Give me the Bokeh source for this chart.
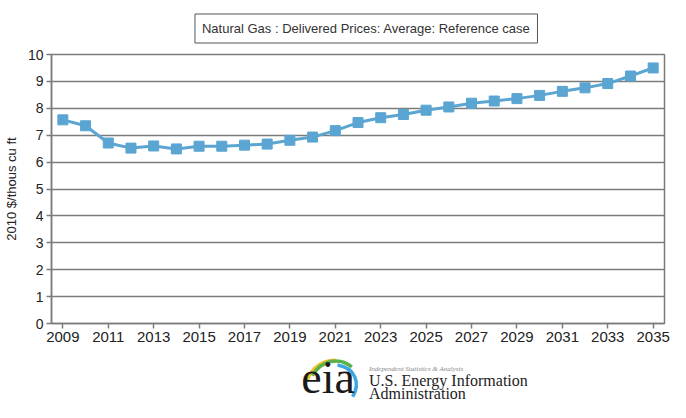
from bokeh.plotting import figure
from bokeh.models import Range1d, FixedTicker, Label, ColumnDataSource
from bokeh.layouts import column
from bokeh.embed import file_html
from bokeh.resources import INLINE

years = list(range(2009, 2036))
prices = [7.57, 7.35, 6.71, 6.52, 6.60, 6.49, 6.59, 6.59, 6.63, 6.67,
          6.81, 6.93, 7.17, 7.47, 7.65, 7.77, 7.93, 8.05, 8.19, 8.27,
          8.36, 8.48, 8.63, 8.76, 8.92, 9.20, 9.50]
x_ticks = list(range(2009, 2036, 2))
y_ticks = list(range(0, 11))
title_text = "Natural Gas : Delivered Prices: Average: Reference case"
y_label = "2010 $/thous cu ft"

FONT = "Liberation Sans"
SERIF = "Liberation Serif"
LINE = "#5AA5D2"
GRID = "#7c7c7c"
W = 670


def strip(height):
    f = figure(width=W, height=height, output_backend="svg", toolbar_location=None,
               x_range=Range1d(0, W), y_range=Range1d(0, height),
               x_axis_type=None, y_axis_type=None, min_border=0)
    f.grid.visible = False
    f.outline_line_color = None
    f.background_fill_color = "white"
    f.border_fill_color = "white"
    return f


# header with boxed title
h = strip(46)
h.add_layout(Label(x=346, y=16, text=title_text, text_align="center", text_baseline="middle",
                   text_font=FONT, text_font_size="13px", text_alpha=0.0, padding=7,
                   background_fill_color="#c8c8c8", border_line_color=None))
h.add_layout(Label(x=344, y=18, text=title_text, text_align="center", text_baseline="middle",
                   text_font=FONT, text_font_size="13px", text_color="#333333", padding=7,
                   background_fill_color="white", border_line_color="#555555",
                   border_line_width=1))

# main chart
src = ColumnDataSource(dict(year=years, price=prices))
p = figure(width=W, height=301, output_backend="svg", toolbar_location=None,
           x_range=Range1d(2008.5, 2035.5), y_range=Range1d(0, 10),
           min_border_left=44, min_border_right=6, min_border_top=8, min_border_bottom=24)
p.outline_line_color = GRID
p.outline_line_width = 1.5
p.background_fill_color = "white"
p.border_fill_color = "white"
p.xgrid.grid_line_color = None
p.ygrid.grid_line_color = GRID
p.ygrid.grid_line_width = 1.5
p.ygrid.ticker = FixedTicker(ticks=y_ticks)
p.xaxis.ticker = FixedTicker(ticks=x_ticks)
p.yaxis.ticker = FixedTicker(ticks=y_ticks)
for ax in (p.xaxis[0], p.yaxis[0]):
    ax.axis_line_color = GRID
    ax.axis_line_width = 1.5
    ax.major_tick_line_color = GRID
    ax.major_tick_line_width = 1.5
    ax.major_tick_in = 0
    ax.major_tick_out = 5
    ax.minor_tick_line_color = None
    ax.major_label_text_font = FONT
    ax.major_label_text_font_size = "14px"
    ax.major_label_text_color = "#222222"
p.xaxis.major_label_text_font_size = "15px"
p.xaxis.major_label_standoff = 3
p.yaxis.major_label_standoff = 3
p.yaxis.axis_label = y_label
p.yaxis.axis_label_text_font = FONT
p.yaxis.axis_label_text_font_size = "13px"
p.yaxis.axis_label_text_font_style = "normal"
p.yaxis.axis_label_text_color = "#222222"
p.yaxis.axis_label_standoff = 6
p.line("year", "price", source=src, line_color=LINE, line_width=3)
p.scatter("year", "price", source=src, marker="square", size=10,
          fill_color=LINE, line_color=LINE)

# EIA logo strip (decoration)
LH = 55
q = strip(LH)
SX, SY, TOP = 670 / 686, 402 / 418, 347


def lx(v):
    return v * SX


def ly(v):
    return LH - (v * SY - TOP)


swooshes = [
    ((286, 395), (292, 380), (305, 374), (318, 374), "#F2C12E"),
    ((292, 390), (302, 374), (322, 370), (336, 381), "#5BB04B"),
    ((320, 379), (340, 382), (346, 398), (337, 412), "#3FA7E0"),
]
for a, b, c, d, col in swooshes:
    q.bezier(x0=[lx(a[0])], y0=[ly(a[1])], cx0=[lx(b[0])], cy0=[ly(b[1])],
             cx1=[lx(c[0])], cy1=[ly(c[1])], x1=[lx(d[0])], y1=[ly(d[1])],
             line_color=col, line_width=3.5)

q.add_layout(Label(x=273, y=25, text="eia", text_font=SERIF,
                   text_font_size="46px", text_color="#1a1a1a", text_baseline="middle"))
q.add_layout(Label(x=347, y=34, text="Independent Statistics & Analysis", text_font=SERIF,
                   text_font_size="7px", text_font_style="italic", text_color="#888888",
                   text_baseline="middle"))
q.add_layout(Label(x=347, y=22, text="U.S. Energy Information", text_font=SERIF,
                   text_font_size="16px", text_color="#222222", text_baseline="middle"))
q.add_layout(Label(x=347, y=9.5, text="Administration", text_font=SERIF,
                   text_font_size="16px", text_color="#222222", text_baseline="middle"))

layout = column(h, p, q, spacing=0)
open("out.html", "w").write(file_html(layout, INLINE))
